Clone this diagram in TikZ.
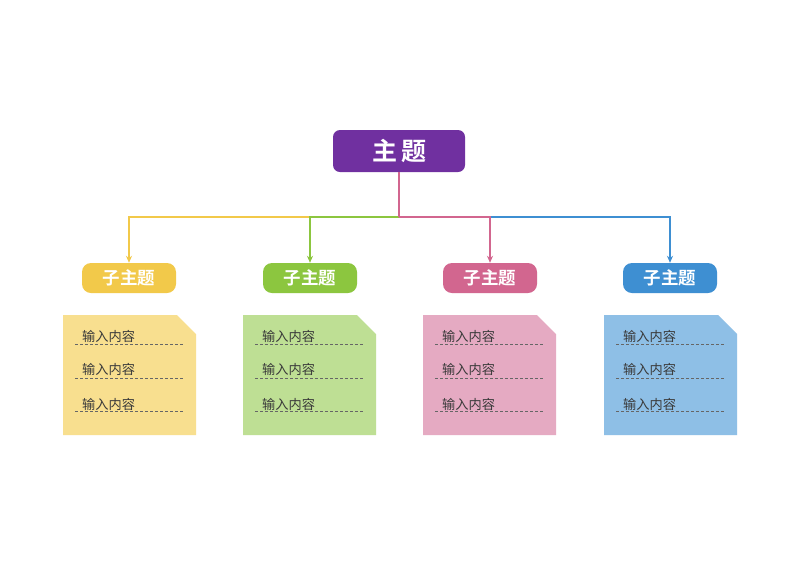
\documentclass[tikz,border=0pt]{standalone}
\usepackage{fontspec}
\setmainfont{Noto Sans CJK SC}
\newfontfamily\cjkb{Noto Sans CJK SC Bold}
\usetikzlibrary{arrows.meta}
\definecolor{cmain}{HTML}{7030A0}
\definecolor{cyel}{HTML}{F2C94A}
\definecolor{cgrn}{HTML}{8CC63F}
\definecolor{cpnk}{HTML}{D2668F}
\definecolor{cblu}{HTML}{3E8FD2}
\definecolor{lyel}{HTML}{F8DF8F}
\definecolor{lgrn}{HTML}{BEDF94}
\definecolor{lpnk}{HTML}{E5AAC2}
\definecolor{lblu}{HTML}{8EBFE6}
\definecolor{ctxt}{HTML}{3A3A3A}
\tikzset{
  mainbox/.style={fill=cmain, rounded corners=7pt, minimum width=132pt, minimum height=42pt, inner sep=0pt, text=white, font=\cjkb\fontsize{25}{27}\selectfont},
  subbox/.style={fill=#1, rounded corners=9pt, minimum width=94pt, minimum height=30pt, inner sep=0pt, text=white, font=\cjkb\fontsize{17.5}{19}\selectfont},
  link/.style={draw=#1, line width=1.8pt},
  arr/.style={draw=#1, line width=1.8pt, -{Stealth[length=7pt,width=6pt]}},
  notetxt/.style={anchor=west, inner sep=0pt, text=ctxt, font=\fontsize{13.2}{15}\selectfont},
  dline/.style={draw=gray!80!black, line width=0.6pt, dash pattern=on 3pt off 2pt},
}
\begin{document}
\begin{tikzpicture}[x=1pt,y=-1pt]
\useasboundingbox (0,0) rectangle (800,566);
\fill[white] (0,0) rectangle (800,566);

\node[mainbox] (main) at (399,151) {主\hspace{4pt}题};

\node[subbox=cyel] (s1) at (129,278) {子主题};
\node[subbox=cgrn] (s2) at (310,278) {子主题};
\node[subbox=cpnk] (s3) at (490,278) {子主题};
\node[subbox=cblu] (s4) at (670,278) {子主题};

\coordinate (jm) at (399,217);
\coordinate (jg) at (310,217);
\coordinate (jp) at (490,217);

\draw[arr=cyel] (jg) -| (s1.north);
\draw[arr=cgrn] (jm) -| (s2.north);
\draw[arr=cblu] (jp) -| (s4.north);
\draw[link=cpnk] (main.south) -- (jm);
\draw[arr=cpnk] (jm) -| (s3.north);

\foreach \x/\c [count=\i] in {63/lyel,243/lgrn,423/lpnk,604/lblu}{
  \fill[\c] (\x,315) -- ++(114,0) -- ++(19,19) -- ++(0,101) -- ++(-133,0) -- cycle;
  \foreach \y/\dy in {336/344,369.5/378.5,404.5/411.5}{
    \node[notetxt] (n\i-\y) at (\x+19,\y) {输入内容};
    \draw[dline] (\x+12,\dy) -- (\x+120,\dy);
  }
}
\end{tikzpicture}
\end{document}
